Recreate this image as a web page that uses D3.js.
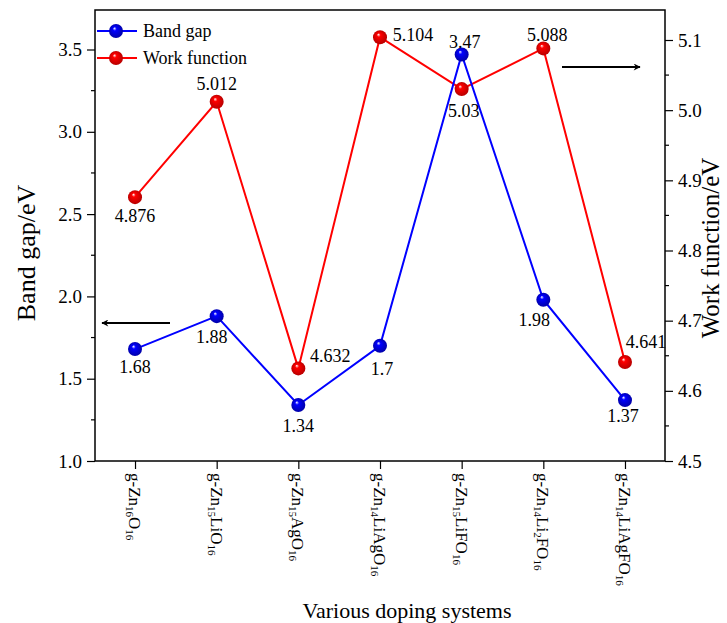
<!DOCTYPE html>
<html>
<head>
<meta charset="utf-8">
<script src="https://cdn.jsdelivr.net/npm/d3@7"></script>
<style>
  body { margin: 0; background: #fff; }
  svg { display: block; }
  svg text { font-family: "Liberation Serif", "DejaVu Serif", serif; fill: #000; }
</style>
</head>
<body>
<svg id="chart" width="727" height="623"></svg>
<script>
// ---- data ----
const categories = [
  [["g-Zn",""],["16","sub"],["O",""],["16","sub"]],
  [["g-Zn",""],["15","sub"],["LiO",""],["16","sub"]],
  [["g-Zn",""],["15","sub"],["AgO",""],["16","sub"]],
  [["g-Zn",""],["14","sub"],["LiAgO",""],["16","sub"]],
  [["g-Zn",""],["15","sub"],["LiFO",""],["16","sub"]],
  [["g-Zn",""],["14","sub"],["Li",""],["2","sub"],["FO",""],["16","sub"]],
  [["g-Zn",""],["14","sub"],["LiAgFO",""],["16","sub"]]
];
const bandGap = [1.68, 1.88, 1.34, 1.7, 3.47, 1.98, 1.37];
const bandGapLabels = ["1.68", "1.88", "1.34", "1.7", "3.47", "1.98", "1.37"];
const workFunction = [4.876, 5.012, 4.632, 5.104, 5.03, 5.088, 4.641];
const workFunctionLabels = ["4.876", "5.012", "4.632", "5.104", "5.03", "5.088", "4.641"];
const leftTicks = [1.0, 1.5, 2.0, 2.5, 3.0, 3.5];
const rightTicks = [4.5, 4.6, 4.7, 4.8, 4.9, 5.0, 5.1];
const seriesNames = ["Band gap", "Work function"];

// label placement offsets (layout, not data)
const bgOffsets = [[0,18],[-5,21],[0,21],[2,23],[3,-13],[-9,20],[-2,16]];
const wfOffsets = [[0,19],[0,-18],[32,-13],[33,-2],[2,22],[4,-14],[21,-20]];

// ---- layout ----
const L = 95, R = 665, T = 10, B = 461;
const svg = d3.select("#chart");
const idx = d3.range(categories.length);

const x = d3.scalePoint().domain(idx).range([L, R]).padding(0.49);
const yL = d3.scaleLinear().domain([1, 3.74]).range([B, T]);
const yR = d3.scaleLinear().domain([4.5, 5.1 + (40 - T) / (421 / 0.6)]).range([B, T]);

const BLUE = "#0000ff", RED = "#ff0000";

// gradients for sphere markers
const defs = svg.append("defs");
function grad(id, c, dark) {
  const g = defs.append("radialGradient").attr("id", id)
    .attr("cx", "50%").attr("cy", "50%").attr("r", "55%").attr("fx", "38%").attr("fy", "30%");
  g.append("stop").attr("offset", "0%").attr("stop-color", "#ffffff");
  g.append("stop").attr("offset", "25%").attr("stop-color", c);
  g.append("stop").attr("offset", "100%").attr("stop-color", dark);
}
grad("gBlue", BLUE, "#0000a0");
grad("gRed", RED, "#b00000");
// arrow marker
defs.append("marker").attr("id", "arrow").attr("viewBox", "0 0 10 10")
  .attr("refX", 9).attr("refY", 5).attr("markerWidth", 11).attr("markerHeight", 7)
  .attr("markerUnits", "userSpaceOnUse").attr("orient", "auto")
  .append("path").attr("d", "M0,0 L10,5 L0,10 L3,5 Z").attr("fill", "#000");

// frame
svg.append("rect").attr("x", L).attr("y", T).attr("width", R - L).attr("height", B - T)
  .attr("fill", "none").attr("stroke", "#000").attr("stroke-width", 1.5);

// left axis
const leftAxis = d3.axisLeft(yL).tickValues(leftTicks).tickFormat(d3.format(".1f")).tickSize(8).tickPadding(5);
const gL = svg.append("g").attr("transform", `translate(${L},0)`).call(leftAxis);
const leftMinor = d3.range(1.25, 3.74, 0.5);
svg.append("g").selectAll("line").data(leftMinor).join("line")
  .attr("x1", L - 4).attr("x2", L).attr("y1", d => yL(d)).attr("y2", d => yL(d))
  .attr("stroke", "#000").attr("stroke-width", 1.2);

// right axis
const rightAxis = d3.axisRight(yR).tickValues(rightTicks).tickFormat(d3.format(".1f")).tickSize(8).tickPadding(5);
const gR = svg.append("g").attr("transform", `translate(${R},0)`).call(rightAxis);
const rightMinor = [4.55, 4.65, 4.75, 4.85, 4.95, 5.05];
svg.append("g").selectAll("line").data(rightMinor).join("line")
  .attr("x1", R).attr("x2", R + 4).attr("y1", d => yR(d)).attr("y2", d => yR(d))
  .attr("stroke", "#000").attr("stroke-width", 1.2);

// bottom axis
const bottomAxis = d3.axisBottom(x).tickSize(8).tickFormat("");
const gB = svg.append("g").attr("transform", `translate(0,${B})`).call(bottomAxis);

[gL, gR, gB].forEach(g => {
  g.select(".domain").remove();
  g.selectAll(".tick line").attr("stroke", "#000").attr("stroke-width", 1.2);
  g.selectAll(".tick text").attr("font-size", 19);
});

// x tick labels (rotated, with subscripts)
const xl = svg.append("g");
idx.forEach(i => {
  const t = xl.append("text")
    .attr("transform", `translate(${x(i) - 6},${B + 12}) rotate(90)`)
    .attr("font-size", 17);
  categories[i].forEach(([s, kind]) => {
    t.append("tspan").text(s)
      .attr("font-size", kind === "sub" ? 11 : 17)
      .attr("baseline-shift", kind === "sub" ? "-25%" : null);
  });
});

// axis titles
svg.append("text").attr("transform", `translate(35,253) rotate(-90)`)
  .attr("text-anchor", "middle").attr("font-size", 26).text("Band gap/eV");
svg.append("text").attr("transform", `translate(719,248) rotate(-90)`)
  .attr("text-anchor", "middle").attr("font-size", 25).text("Work function/eV");
svg.append("text").attr("x", 407).attr("y", 618)
  .attr("text-anchor", "middle").attr("font-size", 22).text("Various doping systems");

// lines
const lineL = d3.line().x((d, i) => x(i)).y(d => yL(d));
const lineR = d3.line().x((d, i) => x(i)).y(d => yR(d));
svg.append("path").datum(workFunction).attr("d", lineR)
  .attr("fill", "none").attr("stroke", RED).attr("stroke-width", 2);
svg.append("path").datum(bandGap).attr("d", lineL)
  .attr("fill", "none").attr("stroke", BLUE).attr("stroke-width", 2);

// markers
svg.append("g").selectAll("circle").data(workFunction).join("circle")
  .attr("cx", (d, i) => x(i)).attr("cy", d => yR(d)).attr("r", 7).attr("fill", "url(#gRed)");
svg.append("g").selectAll("circle").data(bandGap).join("circle")
  .attr("cx", (d, i) => x(i)).attr("cy", d => yL(d)).attr("r", 7).attr("fill", "url(#gBlue)");

// data labels
svg.append("g").selectAll("text").data(bandGap).join("text")
  .attr("x", (d, i) => x(i) + bgOffsets[i][0]).attr("y", (d, i) => yL(d) + bgOffsets[i][1])
  .attr("dy", "0.35em").attr("text-anchor", "middle").attr("font-size", 18)
  .text((d, i) => bandGapLabels[i]);
svg.append("g").selectAll("text").data(workFunction).join("text")
  .attr("x", (d, i) => x(i) + wfOffsets[i][0]).attr("y", (d, i) => yR(d) + wfOffsets[i][1])
  .attr("dy", "0.35em").attr("text-anchor", "middle").attr("font-size", 18)
  .text((d, i) => workFunctionLabels[i]);

// arrows
svg.append("line").attr("x1", 170).attr("x2", 102).attr("y1", 323).attr("y2", 323)
  .attr("stroke", "#000").attr("stroke-width", 2).attr("marker-end", "url(#arrow)");
svg.append("line").attr("x1", 562).attr("x2", 640).attr("y1", 67).attr("y2", 67)
  .attr("stroke", "#000").attr("stroke-width", 2).attr("marker-end", "url(#arrow)");

// legend
const legend = svg.append("g");
[[BLUE, "gBlue", 31], [RED, "gRed", 58]].forEach(([c, g, ly], i) => {
  legend.append("line").attr("x1", 97).attr("x2", 137).attr("y1", ly).attr("y2", ly)
    .attr("stroke", c).attr("stroke-width", 2);
  legend.append("circle").attr("cx", 116).attr("cy", ly).attr("r", 7).attr("fill", `url(#${g})`);
  legend.append("text").attr("x", 143).attr("y", ly).attr("dy", "0.35em")
    .attr("font-size", 18).text(seriesNames[i]);
});
</script>
</body>
</html>
